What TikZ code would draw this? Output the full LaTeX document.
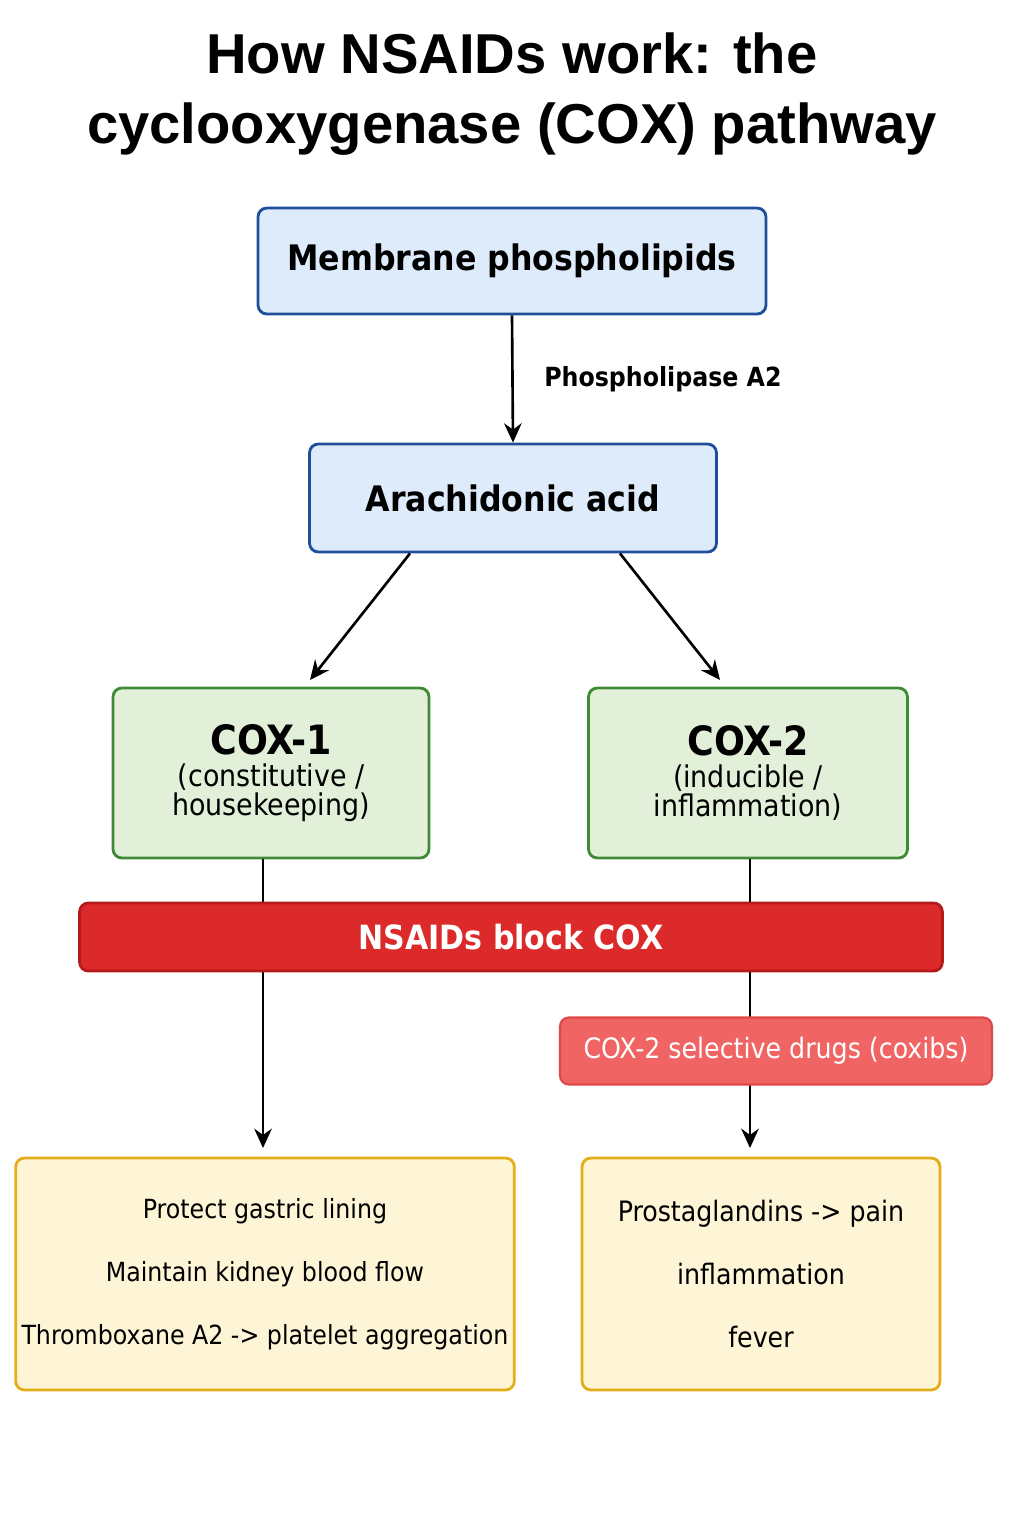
\documentclass[tikz,border=0pt]{standalone}
\usepackage{fontspec}
\setmainfont{DejaVu Sans Condensed}
\newfontfamily\titlefont{Liberation Sans}
\usetikzlibrary{positioning,arrows.meta}
\definecolor{bluefill}{HTML}{DDEBFA}
\definecolor{blueline}{HTML}{1F4E9A}
\definecolor{greenfill}{HTML}{E2F0DA}
\definecolor{greenline}{HTML}{3E8A35}
\definecolor{yellowfill}{HTML}{FDF5D6}
\definecolor{yellowline}{HTML}{E3AE1A}
\definecolor{redbar}{HTML}{DC2A2A}
\definecolor{redline}{HTML}{B51A1A}
\definecolor{pinkfill}{HTML}{F06464}
\definecolor{pinkline}{HTML}{E04848}
\begin{document}
\begin{tikzpicture}[
    x=0.02cm, y=-0.02cm,
    bluebox/.style={rectangle, rounded corners=5pt, draw=blueline, line width=1.6pt, fill=bluefill, font=\bfseries\fontsize{20}{24}\selectfont},
    greenbox/.style={rectangle, rounded corners=5pt, draw=greenline, line width=1.6pt, fill=greenfill, align=center, minimum width=6.32cm, minimum height=3.4cm},
    effectbox/.style={rectangle, rounded corners=5pt, draw=yellowline, line width=1.6pt, fill=yellowfill, align=center, minimum height=4.64cm, font=\fontsize{15}{36}\selectfont},
    flow/.style={-{Stealth[length=11pt,width=10pt]}, line width=1.5pt}
]
\useasboundingbox (0,0) rectangle (1024,1536);

% Title
\node[font=\titlefont\bfseries\fontsize{32}{40}\selectfont, align=center] (title) at (512,94)
  {How NSAIDs work: the\\cyclooxygenase (COX) pathway};

% Precursors
\node[bluebox, minimum width=10.16cm, minimum height=2.12cm] (membrane) at (512,261) {Membrane phospholipids};
\node[bluebox, minimum width=8.14cm, minimum height=2.16cm] (arachidonic) at (513,498) {Arachidonic acid};
\draw[flow] (membrane.south) -- (arachidonic.north) node[midway, right=14pt, font=\bfseries\fontsize{15}{18}\selectfont] (pla) {Phospholipase A2};

% Enzymes
\node[greenbox] (cox1) at (271,773) {{\bfseries\fontsize{23}{28}\selectfont COX-1}\\[4pt]{\fontsize{17}{30}\selectfont (constitutive /}\\{\fontsize{17}{22}\selectfont housekeeping)}};
\node[greenbox, minimum width=6.38cm] (cox2) at (748,773) {{\bfseries\fontsize{23}{28}\selectfont COX-2}\\[4pt]{\fontsize{17}{30}\selectfont (inducible /}\\{\fontsize{17}{22}\selectfont inflammation)}};
\coordinate (c1end) at (310,680);
\coordinate (c2end) at (720,680);
\draw[flow] ([xshift=-2.06cm]arachidonic.south) -- (c1end);
\draw[flow] ([xshift=2.14cm]arachidonic.south) -- (c2end);

% Effects
\node[effectbox, minimum width=8.96cm] (effect1) at (265,1274) {Protect gastric lining\\Maintain kidney blood flow\\Thromboxane A2 -> platelet aggregation};
\node[effectbox, minimum width=7.16cm, font=\fontsize{16}{36}\selectfont] (effect2) at (761,1274) {Prostaglandins -> pain\\inflammation\\fever};

% Pathways down to effects
\coordinate (e1top) at (263,1148);
\coordinate (e2top) at (750,1148);
\draw[flow] (cox1.south -| e1top) -- (e1top);
\draw[flow] (cox2.south -| e2top) -- (e2top);

% Blockers
\node[rectangle, rounded corners=5pt, draw=redline, line width=1.6pt, fill=redbar, text=white, font=\bfseries\fontsize{19}{23}\selectfont, minimum width=17.26cm, minimum height=1.36cm] (block) at (511,937) {NSAIDs block COX};
\node[rectangle, rounded corners=5pt, draw=pinkline, line width=1.2pt, fill=pinkfill, text=white, font=\fontsize{16}{21}\selectfont, minimum width=8.64cm, minimum height=1.34cm] (coxibs) at (776,1051) {COX-2 selective drugs (coxibs)};
\end{tikzpicture}
\end{document}
